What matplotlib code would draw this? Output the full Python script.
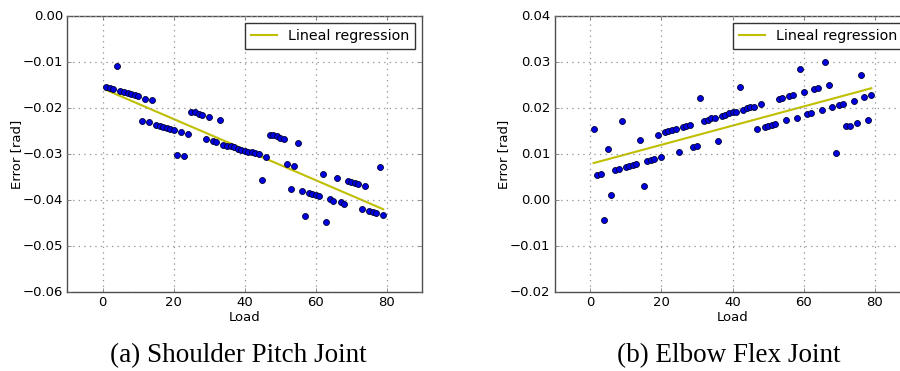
import numpy as np
import matplotlib
matplotlib.use("Agg")
import matplotlib.pyplot as plt

plt.style.use('classic')

load = list(range(1, 80))

shoulder_err = [
    -0.0153, -0.0156, -0.0157, -0.0108, -0.0162, -0.0165, -0.0167, -0.0168, -0.0170, -0.0173,
    -0.0227, -0.0179, -0.0230, -0.0183, -0.0236, -0.0238, -0.0241, -0.0243, -0.0245, -0.0247,
    -0.0301, -0.0252, -0.0304, -0.0256, -0.0207, -0.0209, -0.0212, -0.0215, -0.0267, -0.0218,
    -0.0272, -0.0274, -0.0225, -0.0279, -0.0281, -0.0283, -0.0285, -0.0288, -0.0291, -0.0293,
    -0.0295, -0.0296, -0.0298, -0.0300, -0.0355, -0.0305, -0.0257, -0.0259, -0.0261, -0.0264,
    -0.0266, -0.0321, -0.0375, -0.0325, -0.0276, -0.0380, -0.0434, -0.0384, -0.0387, -0.0388,
    -0.0391, -0.0342, -0.0447, -0.0398, -0.0401, -0.0351, -0.0404, -0.0407, -0.0358, -0.0361,
    -0.0362, -0.0364, -0.0418, -0.0369, -0.0424, -0.0426, -0.0427, -0.0327, -0.0432,
]

elbow_err = [
    0.0154, 0.0054, 0.0057, -0.0043, 0.0112, 0.0012, 0.0066, 0.0069, 0.0172, 0.0072,
    0.0074, 0.0076, 0.0079, 0.0132, 0.0032, 0.0086, 0.0088, 0.0090, 0.0143, 0.0094,
    0.0148, 0.0150, 0.0152, 0.0154, 0.0106, 0.0159, 0.0161, 0.0164, 0.0115, 0.0117,
    0.0222, 0.0173, 0.0175, 0.0178, 0.0179, 0.0130, 0.0184, 0.0186, 0.0189, 0.0191,
    0.0193, 0.0246, 0.0197, 0.0200, 0.0202, 0.0203, 0.0155, 0.0209, 0.0159, 0.0161,
    0.0164, 0.0166, 0.0220, 0.0222, 0.0174, 0.0227, 0.0229, 0.0180, 0.0285, 0.0236,
    0.0188, 0.0189, 0.0242, 0.0244, 0.0196, 0.0301, 0.0251, 0.0202, 0.0103, 0.0207,
    0.0210, 0.0161, 0.0162, 0.0216, 0.0168, 0.0273, 0.0224, 0.0175, 0.0228,
]

captions = ["(a) Shoulder Pitch Joint", "(b) Elbow Flex Joint"]
ylims = [(-0.06, 0.0), (-0.02, 0.04)]
legend_label = "Lineal regression"


def fmt(v, pos):
    s = '%.2f' % v
    if s.startswith('-'):
        s = '\u2212' + s[1:]
    return s


fig = plt.figure(figsize=(9, 3.71), dpi=100, facecolor='white')
W, H = 900.0, 371.0
ax_boxes = [(67.2, 355.0), (554.5, 356.0)]
cap_x = [238, 729]
top_px, bot_px = 16.3, 292.3

for i, (yvals, (lpx, wpx)) in enumerate(zip([shoulder_err, elbow_err], ax_boxes)):
    ax = fig.add_axes([lpx / W, (H - bot_px) / H, wpx / W, (bot_px - top_px) / H])
    ax.set_facecolor('white')
    x = np.array(load, dtype=float)
    y = np.array(yvals)
    k, b = np.polyfit(x, y, 1)
    ax.plot(x, k * x + b, color='y', lw=1.5, label=legend_label)
    ax.plot(x, y, 'o', color='#0000e0', mec='#000033', mew=0.6, ms=4.3, zorder=3)
    ax.set_xlim(-10, 90)
    ax.set_ylim(*ylims[i])
    ax.set_xticks([0, 20, 40, 60, 80])
    ax.set_yticks(np.linspace(ylims[i][0], ylims[i][1], 7))
    ax.yaxis.set_major_formatter(matplotlib.ticker.FuncFormatter(fmt))
    ax.grid(True, linestyle=':', color='0.6', lw=0.9)
    ax.tick_params(labelsize=9.5, direction='in', length=3, pad=3, color='0.4')
    for s in ax.spines.values():
        s.set_color('0.3')
    ax.set_xlabel('Load', fontsize=9.5, labelpad=1)
    ax.set_ylabel('Error [rad]', fontsize=9.5, labelpad=0)
    leg = ax.legend(loc='upper right', fontsize=10.3, handlelength=1.8, borderaxespad=0.5,
                    fancybox=False, frameon=True, numpoints=1)
    leg.get_frame().set_edgecolor('0.2')
    fig.text(cap_x[i] / W, (H - 356) / H, captions[i],
             ha='center', va='center', fontsize=19.5, family='Liberation Serif')

fig.savefig('out.png', dpi=100, facecolor='white')
